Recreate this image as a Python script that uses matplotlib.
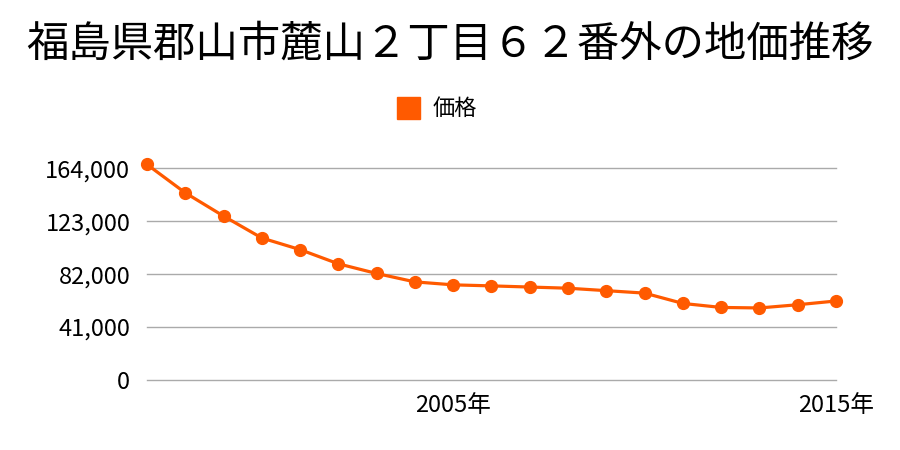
import matplotlib
matplotlib.use("Agg")
import matplotlib.pyplot as plt
from matplotlib.patches import Rectangle

plt.rcParams['font.family'] = ['Noto Sans CJK JP', 'DejaVu Sans']

years = list(range(1997, 2016))
prices = [167000, 145000, 127000, 110000, 101000, 90000, 82500, 76000, 73700,
          72900, 72000, 71100, 69200, 67300, 59300, 56200, 55800, 58300, 61200]
yticks = [0, 41000, 82000, 123000, 164000]
xticks = [2005, 2015]
xlabels = ['2005年', '2015年']
title = '福島県郡山市麓山２丁目６２番外の地価推移'
series_name = '価格'
color = '#FF5A00'

fig = plt.figure(figsize=(9, 4.5), dpi=100)
ax = fig.add_axes([0.1633, 0.1556, 0.7656, 0.4704])
ax.plot(years, prices, color=color, lw=2.3, marker='o', ms=8.5, clip_on=False, zorder=3)
ax.set_xlim(1997, 2015)
ax.set_ylim(0, 164000)
ax.set_yticks(yticks)
ax.set_yticklabels([f'{v:,}' for v in yticks])
ax.set_xticks(xticks)
ax.set_xticklabels(xlabels)
for s in ax.spines.values():
    s.set_visible(False)
ax.grid(axis='y', color='#aaaaaa', lw=1)
for gl in ax.get_ygridlines():
    gl.set_clip_on(False)
ax.tick_params(axis='both', length=0, labelsize=17, colors='black')
ax.tick_params(axis='y', pad=12)
ax.tick_params(axis='x', pad=10)

fig.text(0.5, 0.90, title, ha='center', va='center', fontsize=30.5)
fig.patches.append(Rectangle((397/900, 1-119/450), 23/900, 22/450,
                             transform=fig.transFigure, color=color))
fig.text(433/900, 1-108/450, series_name, ha='left', va='center', fontsize=16)

fig.savefig('out.png', dpi=100)
